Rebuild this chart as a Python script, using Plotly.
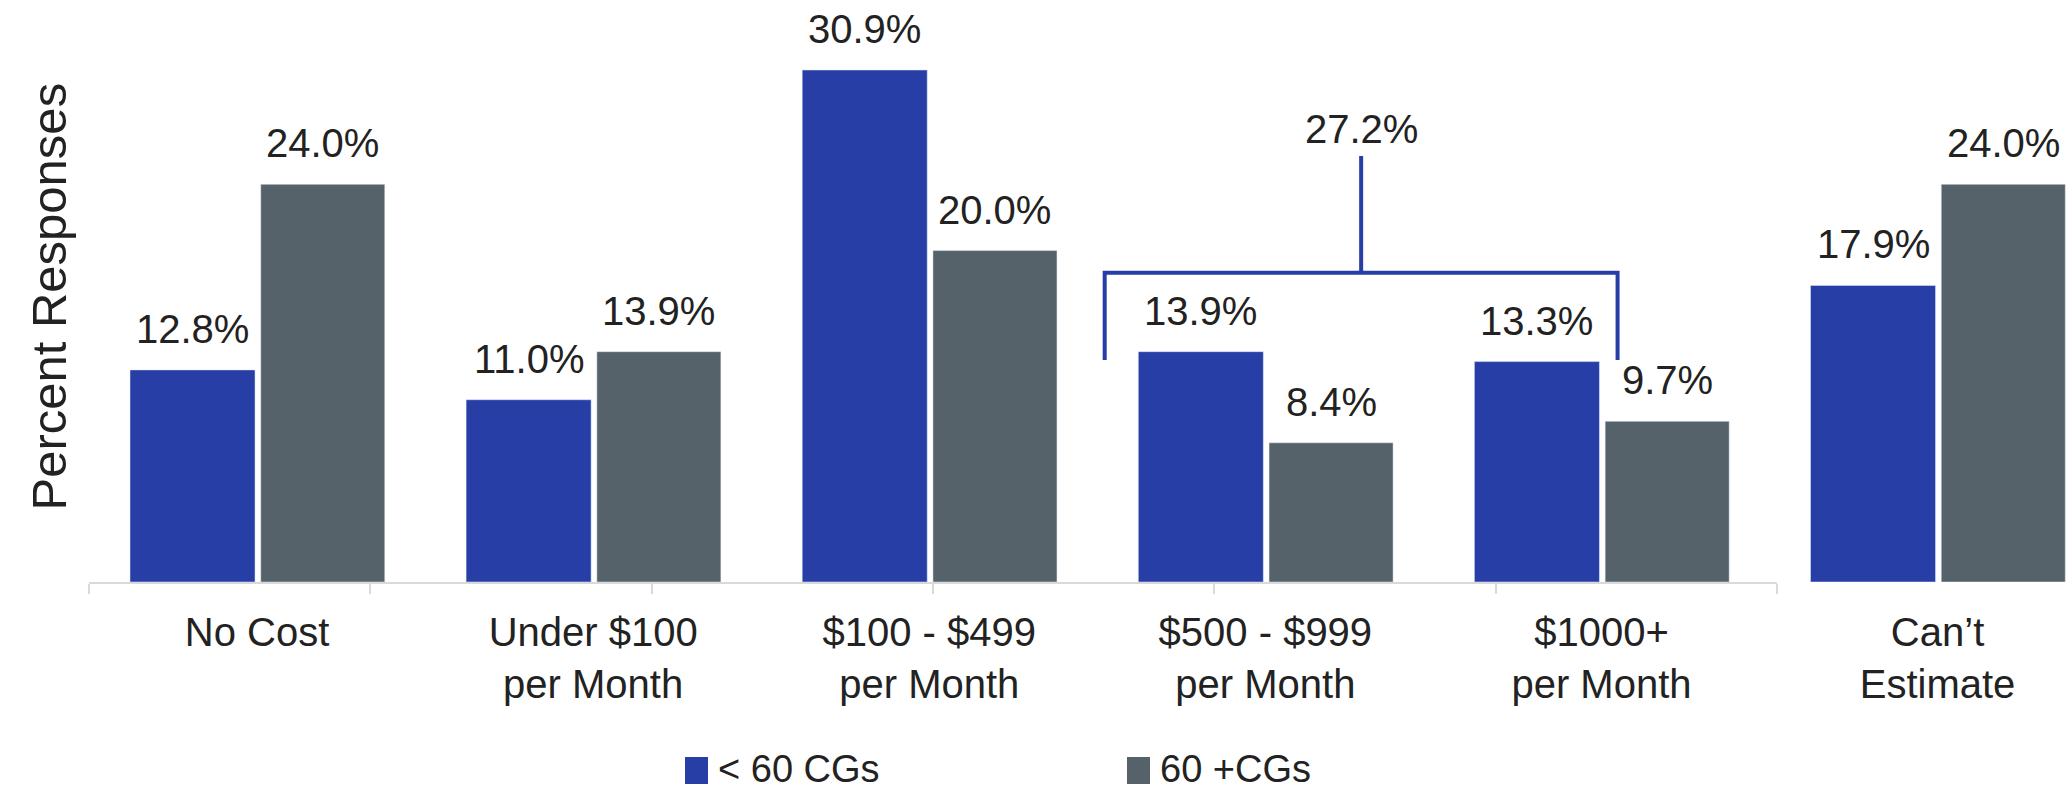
import plotly.graph_objects as go

# ---- data ----
categories = ["No Cost", "Under $100<br>per Month", "$100 - $499<br>per Month",
              "$500 - $999<br>per Month", "$1000+<br>per Month", "Can\u2019t<br>Estimate"]
series_names = ["< 60 CGs", "60 +CGs"]
under60 = [12.8, 11.0, 30.9, 13.9, 13.3, 17.9]
over60 = [24.0, 13.9, 20.0, 8.4, 9.7, 24.0]
bracket_total = 27.2          # combined $500+ share for < 60 CGs
bracket_members = [3, 4]      # category indices covered by the bracket
axis_ticks = [0, 1, 2, 3, 4, 5, 6]   # tick marks on the baseline axis

# ---- style ----
W, H = 2071, 793
ML, MR, MT, MB = 89, 0, 0, 211
PW = W - ML - MR
PH = H - MT - MB
UNIT = 336.1                   # px per category
YMAX = PH / 16.57
BLUE = "#263EA6"
GRAY = "#55626A"
TXT = "#222222"
AXC = "#d9d9d9"
FONT = "Liberation Sans, Arial, sans-serif"

x = list(range(len(categories)))

fig = go.Figure()
fig.add_trace(go.Bar(x=x, y=under60, name=series_names[0], marker_color=BLUE,
                     offset=-0.378, width=0.372, showlegend=False))
fig.add_trace(go.Bar(x=x, y=over60, name=series_names[1], marker_color=GRAY,
                     offset=0.011, width=0.369, showlegend=False))
# invisible helper trace so the baseline axis (x2) is drawn
fig.add_trace(go.Scatter(x=[axis_ticks[0], axis_ticks[-1]], y=[None, None], xaxis="x2",
                         yaxis="y", mode="markers", showlegend=False, hoverinfo="skip"))

annotations = []
for xi, v in zip(x, under60):
    annotations.append(dict(x=xi - 0.378 + 0.186, y=v, xref="x", yref="y",
                            text=f"{v:.1f}%", showarrow=False, yanchor="bottom",
                            yshift=17, font=dict(size=40, color=TXT, family=FONT)))
for xi, v in zip(x, over60):
    annotations.append(dict(x=xi + 0.011 + 0.1845, y=v, xref="x", yref="y",
                            text=f"{v:.1f}%", showarrow=False, yanchor="bottom",
                            yshift=17, font=dict(size=40, color=TXT, family=FONT)))

# bracket over $500-$999 and $1000+ (< 60 CGs)
bl = bracket_members[0] - 0.478
br = bracket_members[1] + 0.048
bm = (bl + br) / 2
y_bar = 18.67
y_drop = 13.4
y_stem = 25.71
shapes = [
    dict(type="path", xref="x", yref="y",
         path=f"M {bl},{y_drop} L {bl},{y_bar} L {br},{y_bar} L {br},{y_drop}",
         line=dict(color=BLUE, width=4)),
    dict(type="line", xref="x", yref="y", x0=bm, x1=bm, y0=y_bar, y1=y_stem,
         line=dict(color=BLUE, width=4)),
]
annotations.append(dict(x=bm, y=y_stem, xref="x", yref="y", text=f"{bracket_total:.1f}%",
                        showarrow=False, yanchor="bottom", yshift=3,
                        font=dict(size=40, color=TXT, family=FONT)))

# y axis title
annotations.append(dict(x=(48 - ML) / PW, y=(PH - 296.5) / PH, xref="paper", yref="paper",
                        text="Percent Responses", textangle=-90, showarrow=False,
                        xanchor="center", yanchor="middle",
                        font=dict(size=49, color=TXT, family=FONT)))

# legend (drawn manually for large swatches)
def px_x(p):
    return (p - ML) / PW

def px_y(p):
    return (PH - p) / PH

for name, col, sx0 in [(series_names[0], BLUE, 685), (series_names[1], GRAY, 1127)]:
    shapes.append(dict(type="rect", xref="paper", yref="paper",
                       x0=px_x(sx0), x1=px_x(sx0 + 23), y0=px_y(784), y1=px_y(757),
                       fillcolor=col, line=dict(width=0)))
    annotations.append(dict(x=px_x(sx0 + 31), y=px_y(792), xref="paper", yref="paper",
                            text=name, showarrow=False, xanchor="left", yanchor="bottom",
                            font=dict(size=38, color=TXT, family=FONT)))

fig.update_layout(
    width=W, height=H,
    margin=dict(l=ML, r=MR, t=MT, b=MB),
    paper_bgcolor="white", plot_bgcolor="rgba(0,0,0,0)",
    barmode="group",
    showlegend=False,
    font=dict(family=FONT, color=TXT),
    xaxis=dict(range=[-0.5, -0.5 + PW / UNIT], tickvals=x, ticktext=categories,
               showline=False, showgrid=False, zeroline=False, ticks="",
               tickfont=dict(size=40, color=TXT, family=FONT), ticklabelstandoff=23),
    xaxis2=dict(domain=[0, (1777 - ML) / PW], range=[axis_ticks[0], axis_ticks[-1]],
                anchor="y", tickvals=axis_ticks, showticklabels=False,
                ticks="outside", ticklen=10, tickwidth=1.5, tickcolor=AXC,
                showline=True, linecolor=AXC, linewidth=1.5,
                showgrid=False, zeroline=False, layer="above traces"),
    yaxis=dict(range=[0, YMAX], showticklabels=False, showgrid=False,
               zeroline=False, showline=False),
    annotations=annotations,
    shapes=shapes,
)

fig.write_html("out.html", config={"displayModeBar": False},
               post_script="document.body.style.margin='0';document.body.style.overflow='hidden';")
